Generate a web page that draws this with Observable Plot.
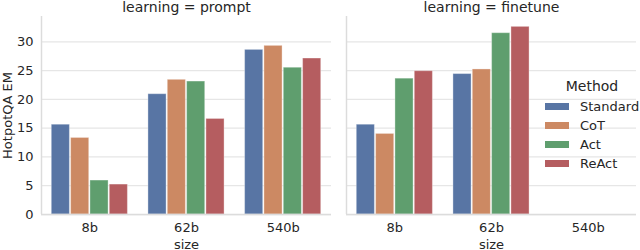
<!DOCTYPE html>
<html>
<head>
<meta charset="utf-8">
<script src="https://cdn.jsdelivr.net/npm/d3@7"></script>
<script src="https://cdn.jsdelivr.net/npm/@observablehq/plot@0.6"></script>
<style>
  html, body { margin: 0; padding: 0; background: #fff; overflow: hidden; }
  #wrap { position: relative; width: 640px; height: 250px; font-family: "DejaVu Sans", sans-serif; color: #262626; }
  #wrap svg g[aria-label="fx-axis tick label"] text { font-size: 14px; }
  .leg { position: absolute; font-family: "DejaVu Sans", sans-serif; color: #262626; white-space: nowrap; }
</style>
</head>
<body>
<div id="wrap"></div>
<script>
// ---- data ----
const learning = ["prompt", "finetune"];
const sizes = ["8b", "62b", "540b"];
const methods = ["Standard", "CoT", "Act", "ReAct"];
const colors = ["#5875a4", "#cc8963", "#5f9e6e", "#b55d60"];
const yTicks = [0, 5, 10, 15, 20, 25, 30];
const yLabel = "HotpotQA EM";
const xLabel = "size";

// values per size (8b, 62b, 540b); null = no bar
const promptStandard = [15.6, 20.9, 28.6];
const promptCoT      = [13.3, 23.4, 29.3];
const promptAct      = [5.9, 23.1, 25.5];
const promptReAct    = [5.2, 16.6, 27.1];
const finetuneStandard = [15.6, 24.4, null];
const finetuneCoT      = [14.0, 25.2, null];
const finetuneAct      = [23.6, 31.5, null];
const finetuneReAct    = [24.9, 32.6, null];

const series = {
  prompt: [promptStandard, promptCoT, promptAct, promptReAct],
  finetune: [finetuneStandard, finetuneCoT, finetuneAct, finetuneReAct]
};

const table = [];
learning.forEach(l => {
  series[l].forEach((vals, mi) => {
    vals.forEach((v, si) => {
      if (v != null) table.push({learning: l, method: methods[mi], mi, size: sizes[si], si, value: v});
    });
  });
});

// dodge: each size group spans 0.8 of a unit, each method gets 0.2
const groupWidth = 0.8;
const barWidth = groupWidth / methods.length;

const chart = Plot.plot({
  width: 640,
  height: 250,
  marginLeft: 41,
  marginRight: 3,
  marginTop: 16,
  marginBottom: 36,
  style: {fontFamily: "DejaVu Sans, sans-serif", fontSize: "13px", color: "#262626", background: "transparent"},
  fx: {domain: learning, axis: "top", label: null, tickSize: 0, tickPadding: 5,
       tickFormat: d => `learning = ${d}`, paddingInner: 0.049, paddingOuter: 0},
  x: {domain: [-0.5, sizes.length - 0.5], ticks: sizes.map((s, i) => i), tickFormat: i => sizes[i],
      tickSize: 0, tickPadding: 8, label: null},
  y: {domain: [0, 34.4], ticks: yTicks, tickSize: 0, tickPadding: 8, label: null},
  color: {domain: methods, range: colors},
  marks: [
    Plot.ruleY(yTicks, {stroke: "#e6e6e6", strokeWidth: 1.25}),
    Plot.rectY(table, {
      fx: "learning",
      x1: d => d.si - groupWidth / 2 + barWidth * d.mi,
      x2: d => d.si - groupWidth / 2 + barWidth * (d.mi + 1),
      y1: 0, y2: "value",
      fill: "method",
      stroke: "white", strokeOpacity: 0.35, strokeWidth: 1,
      insetLeft: 0.6, insetRight: 0.6
    }),
    Plot.ruleY([0], {stroke: "#dcdcdc", strokeWidth: 1.5}),
    Plot.ruleX([-0.5], {stroke: "#dcdcdc", strokeWidth: 1.5}),
    Plot.text([xLabel], {frameAnchor: "bottom", dy: 34, fill: "#262626", fontSize: 13}),
    Plot.text([yLabel], {fx: () => learning[0], frameAnchor: "left", dx: -34, rotate: -90,
                         textAnchor: "middle", lineAnchor: "middle",
                         fill: "#262626", fontSize: 13})
  ]
});

const wrap = document.getElementById("wrap");
wrap.appendChild(chart);

// legend overlaid on the right panel
const title = document.createElement("div");
title.className = "leg";
title.textContent = "Method";
title.style.cssText = "left:545px;top:78px;width:94px;text-align:center;font-size:14px;line-height:17px;";
wrap.appendChild(title);
methods.forEach((m, i) => {
  const row = document.createElement("div");
  row.className = "leg";
  row.style.cssText = `left:545px;top:${97 + i * 19}px;height:19px;display:flex;align-items:center;font-size:13px;`;
  const sw = document.createElement("span");
  sw.style.cssText = `display:inline-block;width:24px;height:7px;background:${colors[i]};margin-right:11px;`;
  const lab = document.createElement("span");
  lab.textContent = m;
  row.appendChild(sw);
  row.appendChild(lab);
  wrap.appendChild(row);
});
</script>
</body>
</html>
